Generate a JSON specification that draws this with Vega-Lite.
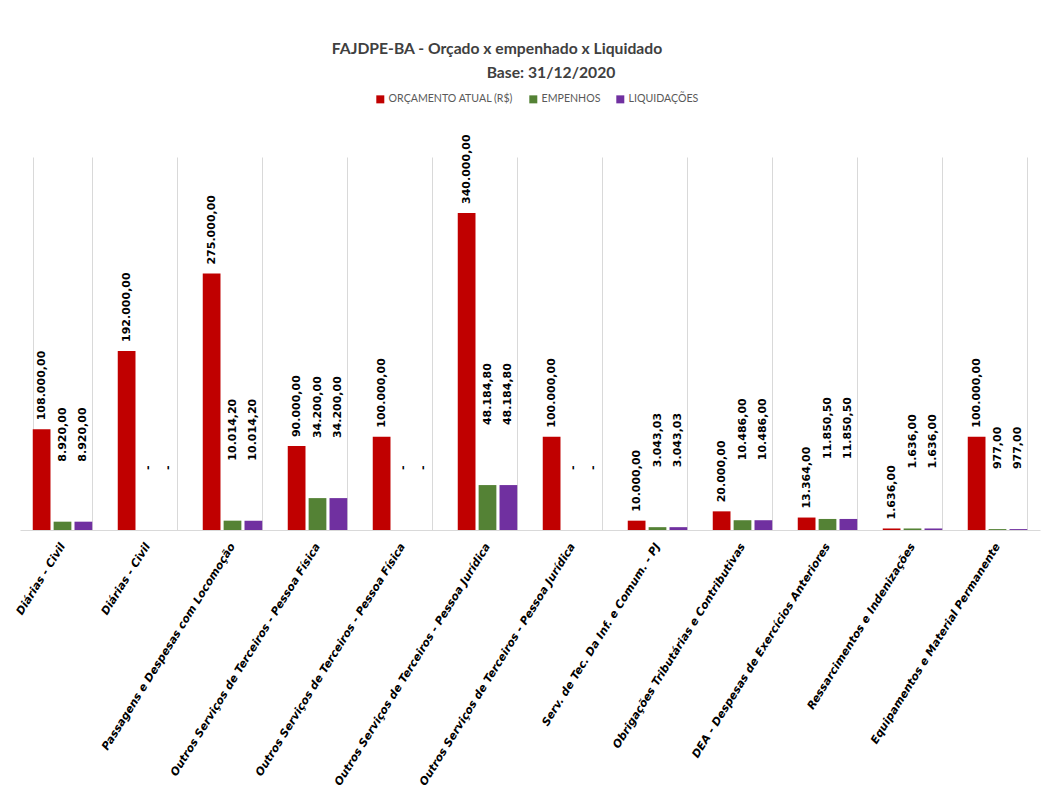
{
  "$schema": "https://vega.github.io/schema/vega-lite/v6.json",
  "width": 1020,
  "height": 373,
  "autosize": {"type": "none"},
  "padding": {"left": 20, "top": 157, "right": 3, "bottom": 281},
  "background": "white",
  "config": {
    "locale": {"number": {"decimal": ",", "thousands": ".", "grouping": [3], "currency": ["R$", ""]}},
    "view": {"stroke": null}
  },
  "title": {
    "text": "FAJDPE-BA - Orçado x empenhado x Liquidado",
    "subtitle": "\u2800\u2800\u2800\u2800\u2800\u2800\u2800\u2800\u2800Base: 31/12/2020",
    "anchor": "middle",
    "dx": -33,
    "offset": 12,
    "font": "Lato",
    "fontSize": 15.7,
    "fontWeight": "bold",
    "color": "#404040",
    "subtitleFont": "Lato",
    "subtitleFontSize": 15.7,
    "subtitleFontWeight": "bold",
    "subtitleColor": "#404040",
    "subtitlePadding": 9
  },
  "data": {
    "values": [
      {"cat": "Diárias - Civil", "serie": "ORÇAMENTO ATUAL (R$)", "valor": 108000},
      {"cat": "Diárias - Civil", "serie": "EMPENHOS", "valor": 8920},
      {"cat": "Diárias - Civil", "serie": "LIQUIDAÇÕES", "valor": 8920},
      {"cat": "\u200bDiárias - Civil", "serie": "ORÇAMENTO ATUAL (R$)", "valor": 192000},
      {"cat": "\u200bDiárias - Civil", "serie": "EMPENHOS", "valor": 0},
      {"cat": "\u200bDiárias - Civil", "serie": "LIQUIDAÇÕES", "valor": 0},
      {"cat": "Passagens e Despesas com Locomoção", "serie": "ORÇAMENTO ATUAL (R$)", "valor": 275000},
      {"cat": "Passagens e Despesas com Locomoção", "serie": "EMPENHOS", "valor": 10014.2},
      {"cat": "Passagens e Despesas com Locomoção", "serie": "LIQUIDAÇÕES", "valor": 10014.2},
      {"cat": "Outros Serviços de Terceiros - Pessoa Física", "serie": "ORÇAMENTO ATUAL (R$)", "valor": 90000},
      {"cat": "Outros Serviços de Terceiros - Pessoa Física", "serie": "EMPENHOS", "valor": 34200},
      {"cat": "Outros Serviços de Terceiros - Pessoa Física", "serie": "LIQUIDAÇÕES", "valor": 34200},
      {"cat": "\u200bOutros Serviços de Terceiros - Pessoa Física", "serie": "ORÇAMENTO ATUAL (R$)", "valor": 100000},
      {"cat": "\u200bOutros Serviços de Terceiros - Pessoa Física", "serie": "EMPENHOS", "valor": 0},
      {"cat": "\u200bOutros Serviços de Terceiros - Pessoa Física", "serie": "LIQUIDAÇÕES", "valor": 0},
      {"cat": "Outros Serviços de Terceiros - Pessoa Jurídica", "serie": "ORÇAMENTO ATUAL (R$)", "valor": 340000},
      {"cat": "Outros Serviços de Terceiros - Pessoa Jurídica", "serie": "EMPENHOS", "valor": 48184.8},
      {"cat": "Outros Serviços de Terceiros - Pessoa Jurídica", "serie": "LIQUIDAÇÕES", "valor": 48184.8},
      {"cat": "\u200bOutros Serviços de Terceiros - Pessoa Jurídica", "serie": "ORÇAMENTO ATUAL (R$)", "valor": 100000},
      {"cat": "\u200bOutros Serviços de Terceiros - Pessoa Jurídica", "serie": "EMPENHOS", "valor": 0},
      {"cat": "\u200bOutros Serviços de Terceiros - Pessoa Jurídica", "serie": "LIQUIDAÇÕES", "valor": 0},
      {"cat": "Serv. de Tec. Da Inf. e Comum. - PJ", "serie": "ORÇAMENTO ATUAL (R$)", "valor": 10000},
      {"cat": "Serv. de Tec. Da Inf. e Comum. - PJ", "serie": "EMPENHOS", "valor": 3043.03},
      {"cat": "Serv. de Tec. Da Inf. e Comum. - PJ", "serie": "LIQUIDAÇÕES", "valor": 3043.03},
      {"cat": "Obrigações Tributárias e Contributivas", "serie": "ORÇAMENTO ATUAL (R$)", "valor": 20000},
      {"cat": "Obrigações Tributárias e Contributivas", "serie": "EMPENHOS", "valor": 10486},
      {"cat": "Obrigações Tributárias e Contributivas", "serie": "LIQUIDAÇÕES", "valor": 10486},
      {"cat": "DEA - Despesas de Exercícios Anteriores", "serie": "ORÇAMENTO ATUAL (R$)", "valor": 13364},
      {"cat": "DEA - Despesas de Exercícios Anteriores", "serie": "EMPENHOS", "valor": 11850.5},
      {"cat": "DEA - Despesas de Exercícios Anteriores", "serie": "LIQUIDAÇÕES", "valor": 11850.5},
      {"cat": "Ressarcimentos e Indenizações", "serie": "ORÇAMENTO ATUAL (R$)", "valor": 1636},
      {"cat": "Ressarcimentos e Indenizações", "serie": "EMPENHOS", "valor": 1636},
      {"cat": "Ressarcimentos e Indenizações", "serie": "LIQUIDAÇÕES", "valor": 1636},
      {"cat": "Equipamentos e Material Permanente", "serie": "ORÇAMENTO ATUAL (R$)", "valor": 100000},
      {"cat": "Equipamentos e Material Permanente", "serie": "EMPENHOS", "valor": 977},
      {"cat": "Equipamentos e Material Permanente", "serie": "LIQUIDAÇÕES", "valor": 977}
    ]
  },
  "encoding": {
    "x": {
      "field": "cat",
      "type": "nominal",
      "sort": null,
      "title": null,
      "scale": {"paddingInner": 0.3, "paddingOuter": 0.15},
      "axis": {
        "tickBand": "extent",
        "grid": true,
        "gridColor": "#d9d9d9",
        "gridWidth": 1,
        "domainColor": "#d9d9d9",
        "ticks": false,
        "labelAngle": -58,
        "labelAlign": "right",
        "labelBaseline": "middle",
        "labelPadding": 14,
        "labelFont": "DejaVu Sans",
        "labelFontSize": 11,
        "labelFontWeight": "bold",
        "labelFontStyle": "italic",
        "labelColor": "#000000",
        "labelLimit": 0,
        "labelOverlap": false
      }
    },
    "xOffset": {
      "field": "serie",
      "type": "nominal",
      "sort": ["ORÇAMENTO ATUAL (R$)", "EMPENHOS", "LIQUIDAÇÕES"],
      "scale": {"paddingInner": 0.15, "paddingOuter": 0}
    },
    "y": {
      "field": "valor",
      "type": "quantitative",
      "scale": {"domain": [0, 400000]},
      "axis": null
    }
  },
  "layer": [
    {
      "mark": {"type": "bar"},
      "encoding": {
        "color": {
          "field": "serie",
          "type": "nominal",
          "scale": {
            "domain": ["ORÇAMENTO ATUAL (R$)", "EMPENHOS", "LIQUIDAÇÕES"],
            "range": ["#c00000", "#548235", "#7030a0"]
          },
          "legend": {
            "title": null,
            "orient": "none",
            "legendX": 355,
            "legendY": -63,
            "direction": "horizontal",
            "symbolType": "square",
            "symbolSize": 64,
            "symbolStrokeWidth": 0,
            "labelFont": "Lato",
            "labelFontSize": 10.6,
            "labelColor": "#595959",
            "columnPadding": 14,
            "labelOffset": 3
          }
        }
      }
    },
    {
      "transform": [{"filter": "datum.serie === 'ORÇAMENTO ATUAL (R$)'"}],
      "mark": {"type": "text", "angle": -90, "align": "left", "baseline": "middle", "dx": 9, "font": "DejaVu Sans", "fontSize": 11, "fontWeight": "bold", "color": "#000000"},
      "encoding": {
        "text": {"condition": {"test": "datum.valor === 0", "value": "-"}, "field": "valor", "type": "quantitative", "format": ",.2f"}
      }
    },
    {
      "transform": [{"filter": "datum.serie !== 'ORÇAMENTO ATUAL (R$)'"}],
      "mark": {"type": "text", "angle": -90, "align": "left", "baseline": "middle", "dx": 60, "font": "DejaVu Sans", "fontSize": 11, "fontWeight": "bold", "color": "#000000"},
      "encoding": {
        "text": {"condition": {"test": "datum.valor === 0", "value": "-"}, "field": "valor", "type": "quantitative", "format": ",.2f"}
      }
    }
  ]
}
